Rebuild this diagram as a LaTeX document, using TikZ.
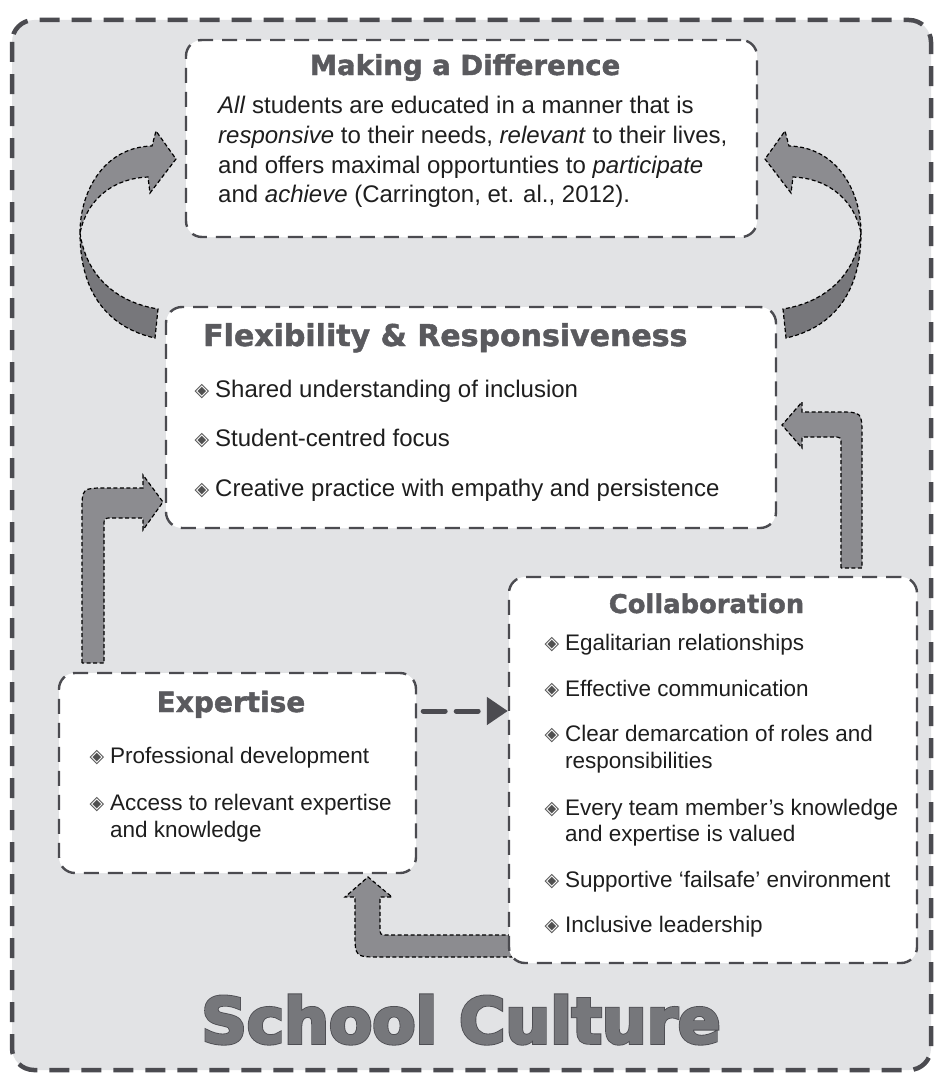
\documentclass[tikz,border=0pt]{standalone}
\usepackage{fontspec}
\setmainfont{Liberation Sans}
\newfontfamily\headfont{DejaVu Sans}[BoldFeatures={FakeBold=1.6}]
\newfontfamily\cultfont{DejaVu Sans}[BoldFeatures={FakeBold=2.8}]
\newfontfamily\rimfont{DejaVu Sans}[BoldFeatures={FakeBold=5.5}]
\newfontfamily\symfont{DejaVu Sans}
\usetikzlibrary{arrows.meta}
\definecolor{bgc}{HTML}{E2E3E5}
\definecolor{framec}{HTML}{4B4B50}
\definecolor{headc}{HTML}{5A5A5E}
\definecolor{textc}{HTML}{1E1E1E}
\definecolor{arrowlt}{HTML}{8C8C90}
\definecolor{arrowdk}{HTML}{77777B}
\definecolor{bulc}{HTML}{505050}
\definecolor{culfill}{HTML}{76777B}
\definecolor{outc}{HTML}{4E4E53}
\newcommand\bul{\llap{\raisebox{0.5pt}{\symfont\fontsize{19}{19}\selectfont\color{bulc}◈}\hspace{6pt}}}
% twisted ribbon arrow (left one, mirrored for the right)
\newcommand\twistarrow{%
\filldraw[blockarrow,fill=arrowlt](80,233) .. controls (80,190) and (105,147) .. (152,146)--(156,131)--(176,159)--(150,193)--(148,177) .. controls (118,178) and (88,195) .. (80,233)--cycle;
\filldraw[blockarrow,fill=arrowdk](80,233) .. controls (86,275) and (115,302) .. (158,309)--(155,338) .. controls (110,328) and (80,295) .. (80,233)--cycle;
}
\tikzset{
frame/.style={draw=framec,fill=bgc,line width=4.5pt,dash pattern=on 20pt off 12pt,rounded corners=22pt},
panel/.style={draw=framec,fill=white,line width=2.4pt,dash pattern=on 15pt off 9pt,rounded corners=16pt,inner sep=0pt},
head/.style={font=\headfont\bfseries\fontsize{#1}{#1}\selectfont,text=headc,inner sep=0pt,anchor=base},
txt/.style={font=\fontsize{#1}{#1}\selectfont,text=textc,inner sep=0pt,anchor=base west},
blockarrow/.style={draw=black,line width=1.2pt,dash pattern=on 4pt off 2.5pt},
linkarrow/.style={draw=framec,line width=5pt,line cap=round,dash pattern=on 22pt off 11pt,-{Triangle[length=21pt,width=27pt]}},
culture/.style={font=#1\bfseries\fontsize{63}{63}\selectfont,inner sep=0pt,anchor=base}
}
\begin{document}
\begin{tikzpicture}[x=1pt,y=-1pt]
\useasboundingbox (0,0) rectangle (934,1073);
\fill[white](0,0) rectangle (934,1073);
\draw[frame](12,20) rectangle (931,1070);

% arrows behind the boxes
\twistarrow
\begin{scope}[xshift=941pt,xscale=-1]
\twistarrow
\end{scope}
\filldraw[blockarrow,fill=arrowlt](82,663)--(82,512) .. controls (82,488) .. (106,488)--(143,488)--(143,475)--(163,502)--(143,530)--(143,518)--(112,518) .. controls (104,518) .. (104,526)--(104,663)--cycle;
\filldraw[blockarrow,fill=arrowlt](841,568)--(841,445) .. controls (841,437) .. (833,437)--(802,437)--(802,448)--(782,425)--(802,402)--(802,412)--(838,412) .. controls (862,412) .. (862,436)--(862,568)--cycle;
\filldraw[blockarrow,fill=arrowlt](512,935)--(388,935) .. controls (380,935) .. (380,927)--(380,897)--(392,897)--(368,877)--(345,897)--(355,897)--(355,932) .. controls (355,957) .. (380,957)--(512,957)--cycle;

% boxes
\node[panel,minimum width=571pt,minimum height=197pt](diff) at (471.5,138.5){};
\node[panel,minimum width=610pt,minimum height=221pt](flex) at (471,417.5){};
\node[panel,minimum width=408pt,minimum height=386pt](collab) at (713,770){};
\node[panel,minimum width=357pt,minimum height=200pt](expert) at (237.5,773){};
\draw[linkarrow]([yshift=62pt,xshift=6pt]expert.east)--([yshift=62pt]expert.east-|collab.west);

% Making a Difference
\node[head=27.5](diffhead) at (465,75){Making a Difference};
\node[txt=24](d1) at (218,113){\textit{All} students are educated in a manner that is};
\node[txt=24](d2) at (218,143){\textit{responsive} to their needs, \textit{relevant} to their lives,};
\node[txt=24](d3) at (218,173){and offers maximal opportunties to \textit{participate}};
\node[txt=24](d4) at (218,202){and \textit{achieve} (Carrington, et. al., 2012).};

% Flexibility
\node[head=30,anchor=base west](flexhead) at (203,346){Flexibility \& Responsiveness};
\foreach \y/\t [count=\i] in {397/Shared understanding of inclusion,446/Student-centred focus,496/Creative practice with empathy and persistence}
  \node[txt=24](f\i) at (215,\y){\bul\t};

% Collaboration
\node[head=25.8](collabhead) at (706.5,613){Collaboration};
\foreach \y/\t [count=\i] in {650/\bul Egalitarian relationships,696/\bul Effective communication,741/\bul Clear demarcation of roles and,768/responsibilities,815/\bul Every team member’s knowledge,841/and expertise is valued,887/\bul Supportive ‘failsafe’ environment,932/\bul Inclusive leadership}
  \node[txt=22.5](c\i) at (565,\y){\t};

% Expertise
\node[head=28](experthead) at (231,712){Expertise};
\foreach \y/\t [count=\i] in {763/\bul Professional development,810/\bul Access to relevant expertise,837/and knowledge}
  \node[txt=22.5](e\i) at (110,\y){\t};

% School Culture
\node[culture=\rimfont,text=outc](cultrim) at (461,1043){School Culture};
\node[culture=\cultfont,text=culfill](culture) at (461,1043){School Culture};
\end{tikzpicture}
\end{document}
